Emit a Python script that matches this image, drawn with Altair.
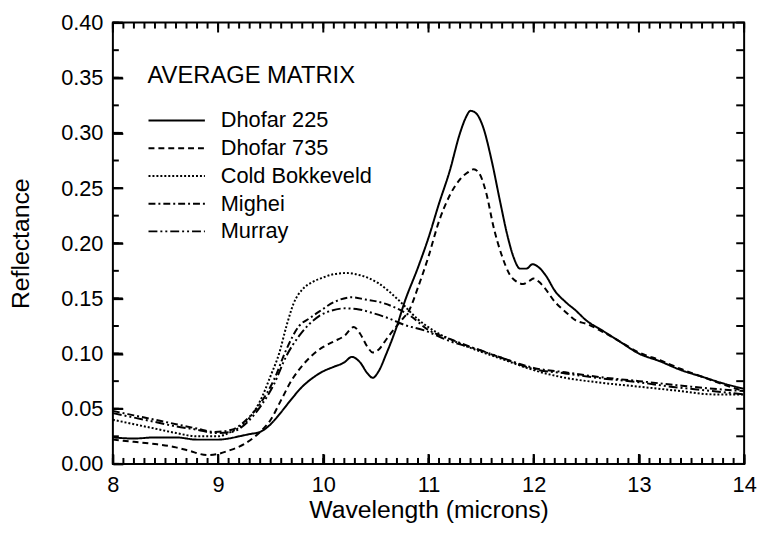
import altair as alt
import pandas as pd

SERIES = ["Dhofar 225", "Dhofar 735", "Cold Bokkeveld", "Mighei", "Murray"]

d225_x = [8.0, 8.2, 8.4, 8.6, 8.8, 9.0, 9.1, 9.2, 9.3, 9.4, 9.5, 9.6, 9.7, 9.8, 9.9, 10.0, 10.1, 10.2, 10.27,
          10.35, 10.42, 10.47, 10.52, 10.6, 10.7, 10.77, 10.9, 11.0, 11.1, 11.2, 11.3, 11.35, 11.4, 11.45, 11.52,
          11.6, 11.68, 11.75, 11.81, 11.87, 11.93, 11.99, 12.05, 12.12, 12.2, 12.3, 12.4, 12.5, 12.65, 12.8,
          13.0, 13.2, 13.4, 13.6, 13.8, 14.0]
d225_y = [0.024, 0.023, 0.024, 0.024, 0.022, 0.022, 0.023, 0.025, 0.027, 0.029, 0.036, 0.047, 0.059, 0.070,
          0.078, 0.084, 0.088, 0.092, 0.097, 0.092, 0.082, 0.078, 0.083, 0.100, 0.125, 0.146, 0.178, 0.205,
          0.236, 0.265, 0.300, 0.313, 0.320, 0.318, 0.305, 0.275, 0.238, 0.207, 0.187, 0.177, 0.177, 0.181,
          0.178, 0.170, 0.157, 0.147, 0.139, 0.130, 0.121, 0.112, 0.100, 0.093, 0.085, 0.079, 0.073, 0.068]

d735_x = [8.0, 8.2, 8.4, 8.6, 8.72, 8.9, 9.0, 9.1, 9.25, 9.34, 9.4, 9.5, 9.6, 9.7, 9.8, 9.9, 10.0, 10.1,
          10.2, 10.29, 10.35, 10.42, 10.47, 10.53, 10.6, 10.68, 10.75, 10.82, 10.9, 11.0, 11.1, 11.2, 11.3,
          11.37, 11.43, 11.49, 11.55, 11.62, 11.7, 11.77, 11.84, 11.9, 11.96, 12.0, 12.05, 12.1, 12.2, 12.3,
          12.4, 12.5, 12.65, 12.8, 13.0, 13.2, 13.4, 13.6, 13.8, 14.0]
d735_y = [0.022, 0.020, 0.018, 0.015, 0.012, 0.008, 0.009, 0.012, 0.018, 0.024, 0.029, 0.040, 0.058, 0.076,
          0.089, 0.099, 0.106, 0.111, 0.116, 0.124, 0.118, 0.106, 0.101, 0.104, 0.113, 0.123, 0.131, 0.140,
          0.160, 0.188, 0.220, 0.243, 0.258, 0.264, 0.267, 0.262, 0.245, 0.214, 0.188, 0.172, 0.165, 0.163,
          0.166, 0.168, 0.165, 0.160, 0.147, 0.138, 0.130, 0.127, 0.120, 0.112, 0.101, 0.094, 0.086, 0.079,
          0.072, 0.066]

cb_x = [8.0, 8.2, 8.4, 8.6, 8.8, 9.0, 9.1, 9.2, 9.3, 9.4, 9.5, 9.58, 9.65, 9.72, 9.8, 9.9, 10.0, 10.1,
        10.22, 10.35, 10.52, 10.71, 10.9, 11.08, 11.25, 11.46, 11.7, 12.0, 12.3, 12.6, 13.0, 13.4, 13.7, 14.0]
cb_y = [0.040, 0.036, 0.032, 0.028, 0.025, 0.025, 0.028, 0.033, 0.042, 0.057, 0.080, 0.100, 0.125, 0.146,
        0.158, 0.165, 0.169, 0.172, 0.173, 0.171, 0.164, 0.149, 0.131, 0.119, 0.111, 0.103, 0.095, 0.085,
        0.078, 0.074, 0.070, 0.066, 0.063, 0.063]

mig_x = [8.0, 8.2, 8.4, 8.6, 8.8, 8.97, 9.13, 9.28, 9.41, 9.53, 9.65, 9.77, 9.87, 9.96, 10.11, 10.27,
         10.4, 10.52, 10.65, 10.83, 10.99, 11.21, 11.46, 11.7, 12.0, 12.3, 12.6, 13.0, 13.3, 13.6, 14.0]
mig_y = [0.048, 0.044, 0.040, 0.036, 0.032, 0.029, 0.031, 0.041, 0.056, 0.076, 0.104, 0.125, 0.132, 0.138,
         0.147, 0.151, 0.149, 0.147, 0.143, 0.134, 0.122, 0.113, 0.104, 0.096, 0.087, 0.083, 0.079, 0.075,
         0.072, 0.069, 0.066]

mur_x = [8.0, 8.2, 8.4, 8.6, 8.8, 8.97, 9.13, 9.28, 9.41, 9.53, 9.65, 9.77, 9.87, 9.96, 10.08, 10.21,
         10.34, 10.46, 10.62, 10.77, 10.96, 11.21, 11.46, 11.7, 12.0, 12.3, 12.6, 13.0, 13.3, 13.6, 14.0]
mur_y = [0.046, 0.042, 0.038, 0.034, 0.031, 0.028, 0.029, 0.038, 0.053, 0.072, 0.098, 0.116, 0.127, 0.134,
         0.139, 0.141, 0.140, 0.137, 0.132, 0.126, 0.121, 0.111, 0.104, 0.096, 0.086, 0.082, 0.078, 0.074,
         0.070, 0.067, 0.063]

DASHES = [[1, 0], [6, 4], [2, 2], [7, 3, 2, 3], [9, 3, 2, 3, 2, 3]]

X_MAJOR = [8, 9, 10, 11, 12, 13, 14]
X_MINOR = [round(8 + i * 0.1, 1) for i in range(61)]
Y_MAJOR = [0.0, 0.05, 0.10, 0.15, 0.20, 0.25, 0.30, 0.35, 0.40]
Y_MINOR = [round(i * 0.025, 3) for i in range(17)]

W, H = 638, 446
X_MIN, X_MAX, Y_MIN, Y_MAX = 8.0, 14.0, 0.0, 0.4
MAJOR_PX, MINOR_PX, RIGHT_PX = 10, 6, 8
px_x = (X_MAX - X_MIN) / W
px_y = (Y_MAX - Y_MIN) / H

rows = []
for name, xs, ys in zip(SERIES, [d225_x, d735_x, cb_x, mig_x, mur_x], [d225_y, d735_y, cb_y, mig_y, mur_y]):
    for x, y in zip(xs, ys):
        rows.append({"series": name, "wavelength": x, "reflectance": y})
df = pd.DataFrame(rows)

tick_rows = []
tid = 0
for vals, length in [(X_MINOR, MINOR_PX), (X_MAJOR, MAJOR_PX)]:
    for v in vals:
        for base, sgn in [(Y_MIN, 1), (Y_MAX, -1)]:
            tick_rows.append({"tick": tid, "k": 0, "wavelength": v, "reflectance": base})
            tick_rows.append({"tick": tid, "k": 1, "wavelength": v, "reflectance": base + sgn * length * px_y})
            tid += 1
for vals, length in [(Y_MINOR, MINOR_PX), (Y_MAJOR, MAJOR_PX)]:
    for v in vals:
        tick_rows.append({"tick": tid, "k": 0, "wavelength": X_MIN, "reflectance": v})
        tick_rows.append({"tick": tid, "k": 1, "wavelength": X_MIN + length * px_x, "reflectance": v})
        tid += 1
for v in Y_MINOR:
    tick_rows.append({"tick": tid, "k": 0, "wavelength": X_MAX, "reflectance": v})
    tick_rows.append({"tick": tid, "k": 1, "wavelength": X_MAX - RIGHT_PX * px_x, "reflectance": v})
    tid += 1
tick_df = pd.DataFrame(tick_rows)

FONT = "Liberation Sans"
xscale = alt.Scale(domain=[X_MIN, X_MAX], nice=False, zero=False)
yscale = alt.Scale(domain=[Y_MIN, Y_MAX], nice=False, zero=False)

x_axis = alt.Axis(orient="bottom", values=X_MAJOR, ticks=True, tickSize=MAJOR_PX, offset=-MAJOR_PX,
                  tickColor="black", tickWidth=2, domain=False, grid=False,
                  labelFlush=False, format="d", labelFontSize=22, labelPadding=11, labelColor="black",
                  labelFont=FONT, title="Wavelength (microns)", titleFont=FONT, titleFontSize=25,
                  titleFontWeight="normal", titleColor="black", titlePadding=2)
y_axis = alt.Axis(orient="left", values=Y_MAJOR, ticks=True, tickSize=MAJOR_PX, offset=-MAJOR_PX,
                  tickColor="black", tickWidth=2, domain=False, grid=False,
                  labelFlush=False, format=".2f", labelFontSize=22, labelPadding=10, labelColor="black",
                  labelFont=FONT, title="Reflectance", titleFont=FONT, titleFontSize=25,
                  titleFontWeight="normal", titleColor="black", titlePadding=27)

lines = alt.Chart(df).mark_line(color="black", strokeWidth=2, interpolate="monotone").encode(
    x=alt.X("wavelength:Q", scale=xscale, axis=x_axis),
    y=alt.Y("reflectance:Q", scale=yscale, axis=y_axis),
    strokeDash=alt.StrokeDash(
        "series:N",
        scale=alt.Scale(domain=SERIES, range=DASHES),
        sort=SERIES,
        legend=alt.Legend(title="AVERAGE MATRIX", orient="none", legendX=35, legendY=42,
                          symbolType="stroke", symbolSize=3249, symbolStrokeWidth=2,
                          symbolStrokeColor="black", labelFontSize=22, labelFont=FONT, labelColor="black",
                          titleFontSize=24, titleFont=FONT, titleFontWeight="normal", titleColor="black",
                          titlePadding=22, rowPadding=6, clipHeight=22, labelOffset=15, padding=0,
                          labelLimit=400, titleLimit=400),
    ),
)

tick_layer = alt.Chart(tick_df).mark_line(color="black", strokeWidth=2).encode(
    x=alt.X("wavelength:Q", scale=xscale, axis=x_axis),
    y=alt.Y("reflectance:Q", scale=yscale, axis=y_axis),
    detail="tick:N",
    order="k:Q",
)

chart = alt.layer(lines, tick_layer).properties(
    width=W, height=H, padding={"left": 1, "top": 1, "right": 0, "bottom": 0}
).configure_view(stroke="black", strokeWidth=2)

chart.save("out.html", embed_options={"renderer": "svg", "actions": False})
